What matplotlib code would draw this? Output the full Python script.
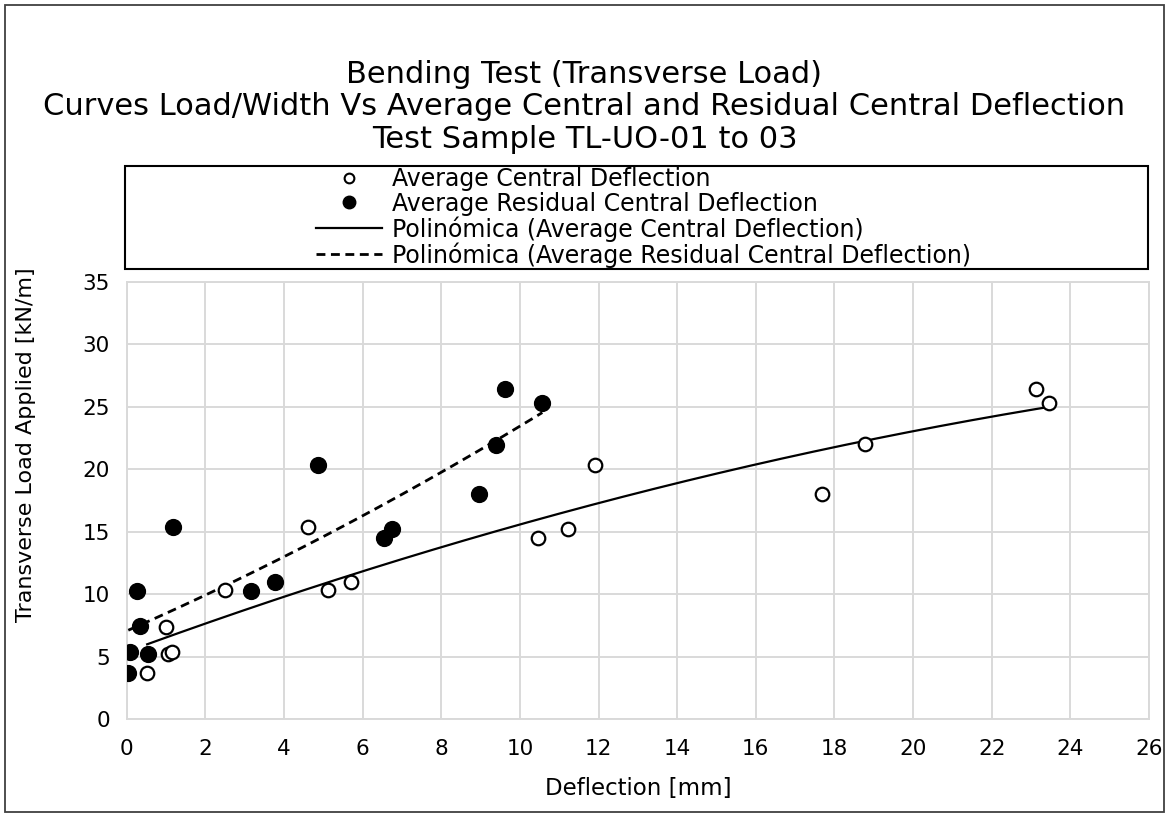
import numpy as np
import matplotlib
matplotlib.use("Agg")
import matplotlib.pyplot as plt
from matplotlib.patches import Rectangle
from matplotlib.lines import Line2D

plt.rcParams['font.family'] = ['DejaVu Sans']

# load per width [kN/m], shared by both series
central_x = [0.52, 1.01, 1.06, 1.15, 2.50, 4.61, 5.13, 5.70, 10.46, 11.23, 11.92, 17.68, 18.77, 23.12, 23.45]
central_y = [3.71, 7.40, 5.26, 5.39, 10.34, 15.41, 10.34, 10.95, 14.48, 15.22, 20.33, 18.03, 22.00, 26.44, 25.30]
residual_x = [0.04, 0.08, 0.33, 0.25, 0.53, 1.18, 3.16, 3.77, 4.86, 6.54, 6.75, 8.96, 9.40, 9.61, 10.57]
residual_y = [3.71, 5.37, 7.45, 10.28, 5.24, 15.41, 10.28, 10.95, 20.33, 14.48, 15.22, 18.03, 21.95, 26.42, 25.30]

x_ticks = list(range(0, 27, 2))
y_ticks = list(range(0, 36, 5))

title = ("Bending Test (Transverse Load)\n"
         "Curves Load/Width Vs Average Central and Residual Central Deflection\n"
         "Test Sample TL-UO-01 to 03")

fig = plt.figure(figsize=(11.69, 8.16), dpi=100)
ax = fig.add_axes([0.1084, 0.1185, 0.8745, 0.536])

# polynomial (order 2) trend lines, like excel
def trend(xs, ys):
    c = np.polyfit(xs, ys, 2)
    xx = np.linspace(min(xs), max(xs), 200)
    return xx, np.polyval(c, xx)

tx, ty = trend(central_x, central_y)
rx, ry = trend(residual_x, residual_y)

ax.plot(tx, ty, color='black', lw=1.6, zorder=3)
ax.plot(rx, ry, color='black', lw=2.0, linestyle=(0, (3.2, 2.0)), zorder=3)
ax.scatter(central_x, central_y, s=95, facecolor='white', edgecolor='black', linewidths=1.6, zorder=4)
ax.scatter(residual_x, residual_y, s=130, color='black', zorder=4)

ax.set_xlim(0, 26)
ax.set_ylim(0, 35)
ax.set_xticks(x_ticks)
ax.set_yticks(y_ticks)
ax.grid(True, color='#d9d9d9', lw=1.4)
ax.set_axisbelow(True)
for s in ax.spines.values():
    s.set_color('#d9d9d9')
    s.set_linewidth(1.4)
ax.tick_params(length=0, labelsize=15.5, colors='black')
ax.tick_params(axis='x', pad=14)
ax.tick_params(axis='y', pad=12)

ax.set_xlabel("Deflection [mm]", fontsize=16.5, labelpad=13)
fig.text(0.022, 0.455, "Transverse Load Applied [kN/m]", rotation=90,
         ha='center', va='center', fontsize=16)

fig.text(0.5, 0.869, title, ha='center', va='center', fontsize=22, linespacing=1.15)

# legend box
fig.patches.append(Rectangle((0.1069, 0.6703), 0.875, 0.1263, transform=fig.transFigure,
                             facecolor='none', edgecolor='black', lw=1.5))
handles = [
    Line2D([], [], ls='none', marker='o', mfc='white', mec='black', mew=1.5, ms=7),
    Line2D([], [], ls='none', marker='o', color='black', ms=9),
    Line2D([], [], color='black', lw=1.6),
    Line2D([], [], color='black', lw=2.0, ls=(0, (3.2, 2.0))),
]
labels = ["Average Central Deflection",
          "Average Residual Central Deflection",
          "Polinómica (Average Central Deflection)",
          "Polinómica (Average Residual Central Deflection)"]
fig.legend(handles, labels, loc='center', bbox_to_anchor=(0.5505, 0.7335),
           frameon=False, fontsize=17, labelspacing=0.02, handlelength=2.8,
           handletextpad=0.4, borderpad=0)

# outer border
fig.patches.append(Rectangle((0.004, 0.005), 0.992, 0.989, transform=fig.transFigure,
                             facecolor='none', edgecolor='#404040', lw=1.3))

fig.savefig("out.png", dpi=100)
